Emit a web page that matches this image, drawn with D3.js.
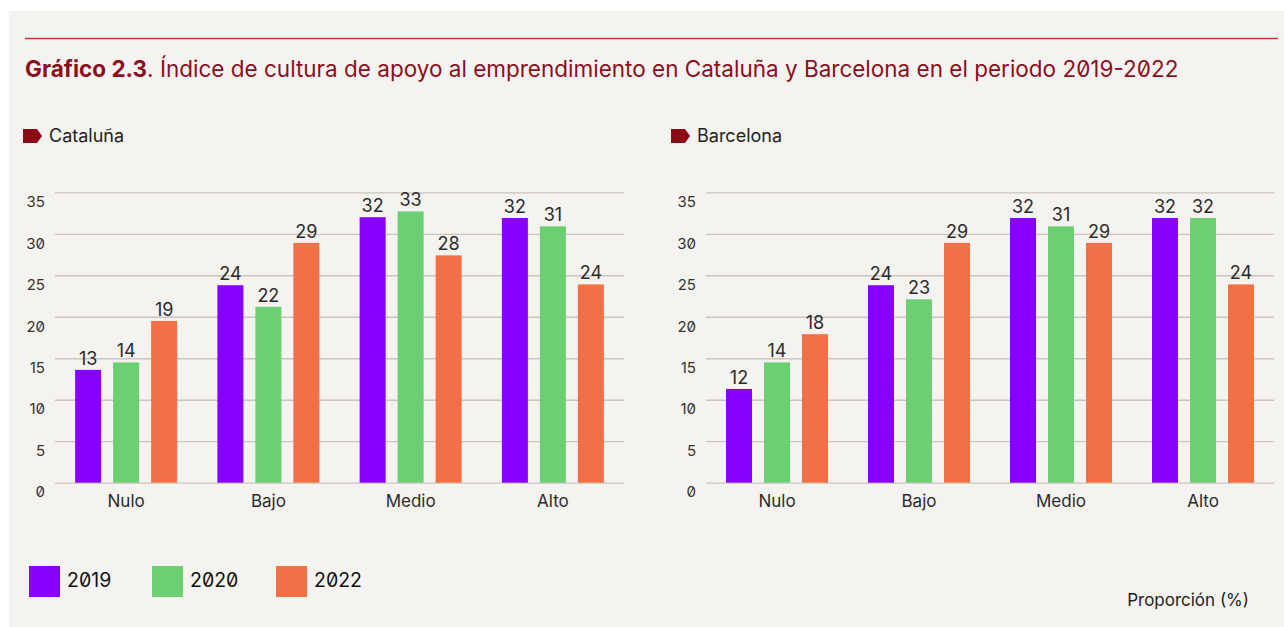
<!DOCTYPE html>
<html lang="es">
<head>
<meta charset="utf-8">
<script src="https://cdn.jsdelivr.net/npm/d3@7"></script>
<style>
  html, body { margin: 0; padding: 0; background: #fff; }
  svg { display: block; font-family: Inter, "Noto Sans", sans-serif; font-feature-settings: "zero" 1; }
</style>
</head>
<body>
<svg id="chart" width="1284" height="627"></svg>
<script>
// data
const categories = ['Nulo', 'Bajo', 'Medio', 'Alto'];
const years = ['2019', '2020', '2022'];
const colors = ['#8800FF', '#6CCF74', '#F36F46'];
const yTicks = [0, 5, 10, 15, 20, 25, 30, 35];

// bar heights (Cataluña)
const cat2019 = [13.6, 23.8, 32.0, 31.9];
const cat2020 = [14.5, 21.2, 32.7, 30.9];
const cat2022 = [19.5, 28.9, 27.4, 23.9];
// printed labels (Cataluña)
const catLbl2019 = [13, 24, 32, 32];
const catLbl2020 = [14, 22, 33, 31];
const catLbl2022 = [19, 29, 28, 24];

// bar heights (Barcelona)
const bcn2019 = [11.3, 23.8, 31.9, 31.9];
const bcn2020 = [14.5, 22.1, 30.9, 31.9];
const bcn2022 = [17.9, 28.9, 28.9, 23.9];
// printed labels (Barcelona)
const bcnLbl2019 = [12, 24, 32, 32];
const bcnLbl2020 = [14, 23, 31, 32];
const bcnLbl2022 = [18, 29, 29, 24];

const svg = d3.select('#chart');

// panel background
svg.append('rect').attr('x', 9).attr('y', 11).attr('width', 1275).attr('height', 616).attr('fill', '#F5F3EF');
svg.append('line').attr('x1', 25).attr('x2', 1278).attr('y1', 38.5).attr('y2', 38.5)
    .attr('stroke', '#C0363F').attr('stroke-width', 1.3);

const title = svg.append('text').attr('x', 25).attr('y', 77).attr('fill', '#8E0E1E').style('font-size', '22.5px');
title.append('tspan').attr('font-weight', 700).text('Gráfico 2.3');
title.append('tspan').text('. Índice de cultura de apoyo al emprendimiento en Cataluña y Barcelona en el periodo 2019-2022');

const y = d3.scaleLinear().domain([0, 35]).range([482.7, 192.3]);

function panel(name, x0, x1, markerX, vals, lbls) {
    const g = svg.append('g');

    g.append('path')
        .attr('d', `M${markerX},129 h14 l5,7 l-5,7 h-14 z`)
        .attr('fill', '#8B0A14');
    g.append('text').attr('x', markerX + 26).attr('y', 141.5).attr('fill', '#222')
        .style('font-size', '18px').text(name);

    const x = d3.scaleBand().domain(categories).range([x0, x1]).padding(0);

    const yAxis = d3.axisLeft(y).tickValues(yTicks).tickSize(-(x1 - x0)).tickPadding(10);
    const ax = g.append('g').attr('transform', `translate(${x0},0)`).call(yAxis);
    ax.select('.domain').remove();
    ax.selectAll('.tick line').attr('stroke', '#C9C6BE').attr('stroke-width', 1.3);
    ax.selectAll('.tick text')
        .attr('dy', '0.95em').attr('fill', '#333')
        .style('font-size', '15px').style('font-family', 'Inter, sans-serif');

    const inner = d3.scaleBand().domain(years).range([-57, 57])
        .paddingInner(12 / 38).paddingOuter(6 / 38);

    categories.forEach((c, ci) => {
        const cx = x(c) + x.bandwidth() / 2;
        years.forEach((yr, yi) => {
            const v = vals[yi][ci];
            g.append('rect')
                .attr('x', cx + inner(yr))
                .attr('y', y(v))
                .attr('width', inner.bandwidth())
                .attr('height', y(0) - y(v))
                .attr('fill', colors[yi]);
            g.append('text')
                .attr('x', cx + inner(yr) + inner.bandwidth() / 2)
                .attr('y', y(v) - 5)
                .attr('text-anchor', 'middle')
                .attr('fill', '#2B2B2B')
                .style('font-size', '18px')
                .text(lbls[yi][ci]);
        });
        g.append('text')
            .attr('x', cx).attr('y', 507)
            .attr('text-anchor', 'middle')
            .attr('fill', '#2B2B2B')
            .style('font-size', '17px')
            .text(c);
    });
}

panel('Cataluña', 55, 624, 23, [cat2019, cat2020, cat2022], [catLbl2019, catLbl2020, catLbl2022]);
panel('Barcelona', 706, 1274, 671, [bcn2019, bcn2020, bcn2022], [bcnLbl2019, bcnLbl2020, bcnLbl2022]);

// legend
const legendX = [29, 152, 276];
years.forEach((yr, i) => {
    svg.append('rect').attr('x', legendX[i]).attr('y', 566).attr('width', 31).attr('height', 31).attr('fill', colors[i]);
    svg.append('text').attr('x', legendX[i] + 38).attr('y', 587).attr('fill', '#111')
        .style('font-size', '19.5px').text(yr);
});

svg.append('text').attr('x', 1249).attr('y', 606).attr('text-anchor', 'end').attr('fill', '#222')
    .style('font-size', '17px').text('Proporción (%)');
</script>
</body>
</html>
